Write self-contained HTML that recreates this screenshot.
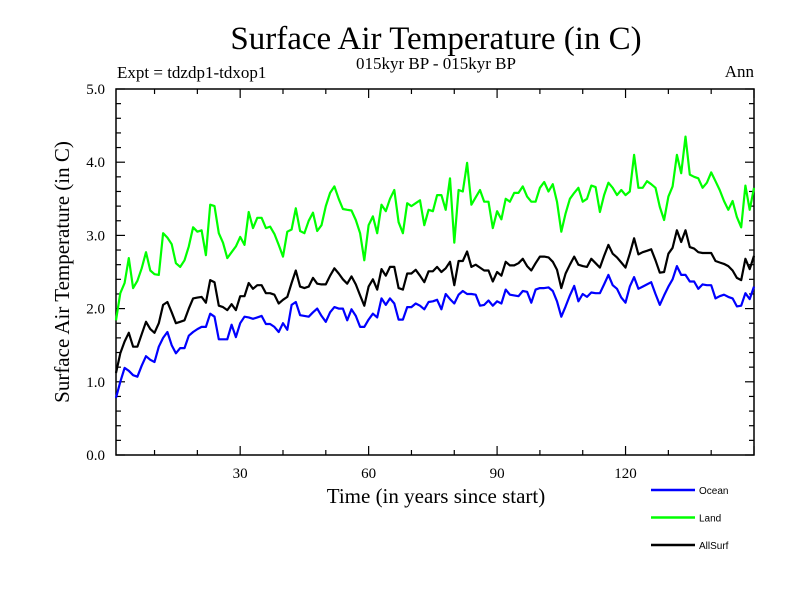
<!DOCTYPE html>
<html><head><meta charset="utf-8"><style>
body{margin:0;background:#fff}
svg{display:block}
text{font-family:"Liberation Serif",serif;fill:#000}
</style></head><body>
<svg id="chart" width="800" height="600" viewBox="0 0 800 600">
<text x="436" y="49" font-size="33" text-anchor="middle">Surface Air Temperature (in C)</text>
<text x="436" y="69" font-size="17" text-anchor="middle">015kyr BP - 015kyr BP</text>
<text x="117" y="78" font-size="17">Expt = tdzdp1-tdxop1</text>
<text x="754" y="77" font-size="17" text-anchor="end">Ann</text>
<text x="0" y="0" font-size="21" text-anchor="middle" transform="translate(69,272) rotate(-90)">Surface Air Temperature (in C)</text>
<text x="436" y="503" font-size="21" text-anchor="middle">Time (in years since start)</text>
<g id="axes"></g>
<g id="series"></g>
<g id="legend"></g>
</svg>
<script>
const oceanValues=[0.78,1.00,1.19,1.15,1.09,1.07,1.22,1.35,1.30,1.27,1.48,1.60,1.68,1.50,1.39,1.46,1.46,1.63,1.68,1.72,1.75,1.75,1.93,1.89,1.58,1.58,1.58,1.78,1.61,1.80,1.89,1.88,1.86,1.88,1.90,1.79,1.79,1.75,1.68,1.80,1.71,2.05,2.09,1.91,1.90,1.89,1.95,2.00,1.90,1.82,1.95,2.02,2.00,2.00,1.84,1.99,1.90,1.75,1.75,1.85,1.93,1.88,2.14,2.05,2.14,2.07,1.85,1.85,2.02,2.02,2.07,2.04,1.99,2.09,2.10,2.12,1.99,2.20,2.13,2.07,2.19,2.24,2.20,2.20,2.19,2.04,2.05,2.11,2.04,2.10,2.07,2.26,2.19,2.18,2.17,2.24,2.23,2.08,2.26,2.28,2.28,2.29,2.24,2.10,1.89,2.03,2.18,2.31,2.10,2.20,2.16,2.22,2.21,2.21,2.33,2.46,2.32,2.27,2.15,2.08,2.30,2.43,2.27,2.30,2.33,2.36,2.20,2.05,2.18,2.30,2.40,2.58,2.46,2.46,2.37,2.37,2.27,2.33,2.32,2.32,2.14,2.17,2.19,2.16,2.14,2.03,2.04,2.21,2.13,2.30];
const landValues=[1.84,2.21,2.35,2.69,2.28,2.38,2.55,2.77,2.52,2.47,2.46,3.03,2.97,2.88,2.62,2.57,2.66,2.85,3.11,3.05,3.07,2.73,3.42,3.40,3.03,2.90,2.69,2.77,2.85,2.98,2.87,3.32,3.10,3.24,3.24,3.10,3.12,3.02,2.87,2.71,3.05,3.08,3.37,3.06,3.03,3.20,3.31,3.06,3.14,3.40,3.58,3.67,3.50,3.36,3.35,3.34,3.21,3.03,2.66,3.14,3.26,3.03,3.42,3.33,3.50,3.62,3.18,3.03,3.44,3.40,3.44,3.48,3.14,3.35,3.33,3.55,3.55,3.35,3.78,2.90,3.62,3.60,3.99,3.42,3.52,3.62,3.46,3.46,3.10,3.33,3.22,3.50,3.46,3.58,3.58,3.67,3.53,3.46,3.46,3.65,3.73,3.60,3.70,3.46,3.05,3.30,3.50,3.58,3.65,3.46,3.50,3.68,3.66,3.32,3.55,3.72,3.65,3.55,3.62,3.55,3.60,4.10,3.65,3.65,3.74,3.70,3.65,3.39,3.21,3.53,3.67,4.10,3.85,4.35,3.83,3.80,3.78,3.65,3.72,3.86,3.74,3.62,3.47,3.35,3.47,3.25,3.11,3.68,3.35,3.65];
const allSurfValues=[1.12,1.39,1.55,1.67,1.48,1.48,1.65,1.82,1.72,1.67,1.80,2.05,2.09,1.95,1.80,1.82,1.84,2.00,2.14,2.15,2.16,2.08,2.39,2.36,2.04,2.02,1.98,2.06,1.98,2.17,2.17,2.35,2.27,2.32,2.32,2.21,2.21,2.19,2.07,2.12,2.16,2.35,2.52,2.30,2.28,2.30,2.42,2.34,2.33,2.33,2.45,2.55,2.48,2.40,2.34,2.44,2.33,2.18,2.04,2.30,2.40,2.26,2.54,2.45,2.57,2.57,2.28,2.26,2.48,2.48,2.53,2.45,2.36,2.51,2.51,2.57,2.50,2.55,2.64,2.32,2.65,2.65,2.78,2.57,2.60,2.56,2.52,2.52,2.37,2.50,2.45,2.64,2.59,2.59,2.62,2.68,2.58,2.52,2.62,2.71,2.71,2.70,2.64,2.53,2.28,2.48,2.60,2.71,2.60,2.58,2.57,2.68,2.62,2.56,2.72,2.87,2.75,2.70,2.63,2.56,2.75,2.96,2.74,2.77,2.79,2.81,2.66,2.49,2.50,2.75,2.83,3.07,2.91,3.07,2.84,2.82,2.77,2.76,2.76,2.76,2.65,2.63,2.61,2.58,2.52,2.42,2.39,2.68,2.54,2.72];
const yTickLabels=["0.0","1.0","2.0","3.0","4.0","5.0"];
const xTickLabels=["30","60","90","120"];
const legendLabels=["Ocean","Land","AllSurf"];

const NS="http://www.w3.org/2000/svg";
const L=116,R=754,T=89,B=455,X0=1,X1=150,Y0=0,Y1=5;
const xs=v=>L+(v-X0)*(R-L)/(X1-X0);
const ys=v=>B-(v-Y0)*(B-T)/(Y1-Y0);
function mk(tag,attrs,parent){const e=document.createElementNS(NS,tag);for(const k in attrs)e.setAttribute(k,attrs[k]);parent.appendChild(e);return e;}
const axes=document.getElementById('axes');
const frame=mk('rect',{x:L,y:T,width:R-L,height:B-T,fill:'none',stroke:'#000','stroke-width':1.5},axes);


for(let i=0;i<=25;i++){const v=i*0.2,y=ys(v),len=(i%5===0)?9:5;
 const t1=mk('line',{x1:L,x2:L+len,y1:y,y2:y,stroke:'#000','stroke-width':1.2},axes);
 
 
 const t2=mk('line',{x1:R,x2:R-len,y1:y,y2:y,stroke:'#000','stroke-width':1.2},axes);
 
 }
yTickLabels.forEach(s=>{const t=mk('text',{x:L-11,y:ys(parseFloat(s))+5,'font-size':15,'text-anchor':'end'},axes);t.textContent=s;
 
 });
for(let v=10;v<=150;v+=10){const x=xs(v),len=(v%30===0)?9:5;
 const t1=mk('line',{x1:x,x2:x,y1:B,y2:B-len,stroke:'#000','stroke-width':1.2},axes);
 
 
 const t2=mk('line',{x1:x,x2:x,y1:T,y2:T+len,stroke:'#000','stroke-width':1.2},axes);
 
 }
xTickLabels.forEach(s=>{const t=mk('text',{x:xs(parseFloat(s)),y:B+23,'font-size':15,'text-anchor':'middle'},axes);t.textContent=s;
 
 });
const ser=document.getElementById('series');
const colors=['#0000ff','#00ff00','#000000'];
const names=['ocean-line','land-line','allsurf-line'];
[oceanValues,landValues,allSurfValues].forEach((arr,i)=>{
 const d=arr.map((v,j)=>(j?'L':'M')+xs(j+1).toFixed(1)+','+ys(v).toFixed(1)).join('');
 const p=mk('path',{d:d,fill:'none',stroke:colors[i],'stroke-width':2.2,'stroke-linejoin':'round'},ser);
 
 
});
const leg=document.getElementById('legend');
legendLabels.forEach((s,i)=>{const y=490+i*27.5;
 const g=mk('g',{},leg);
 
 
 mk('line',{x1:651,x2:695,y1:y,y2:y,stroke:colors[i],'stroke-width':2.5},g);
 const t=mk('text',{x:699,y:y+4,'font-size':10,style:'font-family:"Liberation Sans",sans-serif'},g);t.textContent=s;});
</script>
</body></html>
